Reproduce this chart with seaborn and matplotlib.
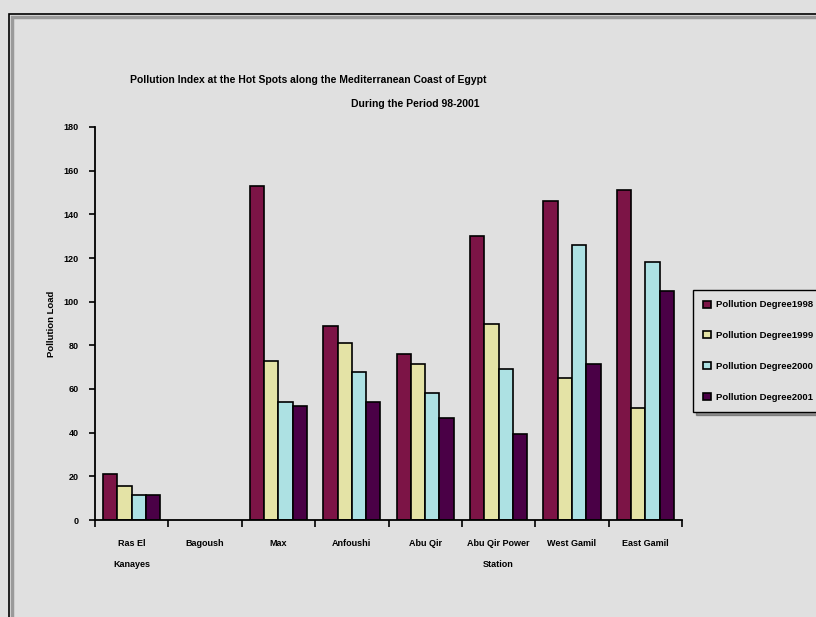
import numpy as np
import pandas as pd
import matplotlib
matplotlib.use("Agg")
import matplotlib.pyplot as plt
from matplotlib.patches import Rectangle
from matplotlib.ticker import FixedLocator, NullFormatter
import seaborn as sns

# Hot-spot locations along the coast
sites = ["Ras El\nKanayes", "Bagoush", "Max", "Anfoushi", "Abu Qir",
         "Abu Qir Power\nStation", "West Gamil", "East Gamil"]

# Pollution degree per year (Bagoush has no recorded values)
deg_1998 = [21, np.nan, 153, 89, 76, 130, 146, 151]
deg_1999 = [15.5, np.nan, 73, 81, 71.5, 90, 65, 51.5]
deg_2000 = [11.5, np.nan, 54, 68, 58, 69, 126, 118]
deg_2001 = [11.5, np.nan, 52, 54, 46.5, 39.5, 71.5, 105]

series_names = ["Pollution Degree1998", "Pollution Degree1999",
                "Pollution Degree2000", "Pollution Degree2001"]
series_colors = ["#7c1446", "#e4e3a6", "#ade1e3", "#4a0046"]
y_ticks = [0, 20, 40, 60, 80, 100, 120, 140, 160, 180]

rows = []
for name, vals in zip(series_names, [deg_1998, deg_1999, deg_2000, deg_2001]):
    for site, v in zip(sites, vals):
        rows.append({"Site": site, "Series": name, "Load": v})
df = pd.DataFrame(rows)

sns.set_theme(style="white")
plt.rcParams["font.family"] = ["Liberation Sans Narrow", "Liberation Sans", "DejaVu Sans"]
plt.rcParams["font.weight"] = "bold"
plt.rcParams["text.color"] = "black"
plt.rcParams["axes.labelcolor"] = "black"
plt.rcParams["xtick.color"] = "black"
plt.rcParams["ytick.color"] = "black"

bg = "#e0e0e0"
fig = plt.figure(figsize=(8.16, 6.17), dpi=100, facecolor=bg)
ax = fig.add_axes([95 / 816, 1 - 520 / 617, (682 - 95) / 816, (520 - 127) / 617])
ax.set_facecolor(bg)

# Outer chart frame with a soft shadow
fig.patches.append(Rectangle((12 / 816, -0.1), 1.2, 1 - 17 / 617 + 0.1,
                             transform=fig.transFigure, fill=False,
                             edgecolor="#9a9a9a", linewidth=2.5, zorder=0))
fig.patches.append(Rectangle((9 / 816, -0.1), 1.2, 1 - 14 / 617 + 0.1,
                             transform=fig.transFigure, fill=False,
                             edgecolor="black", linewidth=1.2, zorder=1))

sns.barplot(data=df, x="Site", y="Load", hue="Series", order=sites,
            hue_order=series_names, palette=series_colors, width=0.78,
            edgecolor="black", linewidth=1.2, saturation=1, ax=ax)

ax.set_xlim(-0.5, len(sites) - 0.5)
ax.set_ylim(0, 180)
ax.set_yticks(y_ticks)
ax.set_yticklabels([str(t) for t in y_ticks], fontsize=6.5)
ax.tick_params(axis="y", direction="out", length=4, width=1.2, color="black",
               left=True, pad=8)

# Category labels centered, tick marks on group boundaries
ax.tick_params(axis="x", which="major", length=0, pad=14, labelsize=6.5)
ax.xaxis.set_minor_locator(FixedLocator(np.arange(-0.5, len(sites), 1.0)))
ax.xaxis.set_minor_formatter(NullFormatter())
ax.tick_params(axis="x", which="minor", direction="out", length=5, width=1.2,
               color="black", bottom=True)
for lbl in ax.get_xticklabels():
    lbl.set_linespacing(2.6)
    lbl.set_verticalalignment("top")

ax.set_xlabel("")
ax.set_ylabel("Pollution Load", fontsize=6.8, labelpad=5, color="black",
              fontweight="bold")

for side in ["top", "right"]:
    ax.spines[side].set_visible(False)
for side in ["left", "bottom"]:
    ax.spines[side].set_color("black")
    ax.spines[side].set_linewidth(1.3)

fig.text(308 / 816, 1 - 80 / 617, "Pollution Index at the Hot Spots along the Mediterranean Coast of Egypt",
         ha="center", va="center", fontsize=7.5)
fig.text(415 / 816, 1 - 104 / 617, "During the Period 98-2001",
         ha="center", va="center", fontsize=7.5)

leg = ax.legend(loc="center left", bbox_to_anchor=(688 / 816, 1 - 351 / 617),
                bbox_transform=fig.transFigure, fontsize=6.8, frameon=True,
                handlelength=0.8, handleheight=0.8, handletextpad=0.6,
                labelspacing=2.3, borderpad=1.1, fancybox=False, shadow=True)
leg.get_frame().set_edgecolor("black")
leg.get_frame().set_facecolor(bg)
leg.get_frame().set_linewidth(1.0)

fig.savefig("out.png", dpi=100, facecolor=bg)
